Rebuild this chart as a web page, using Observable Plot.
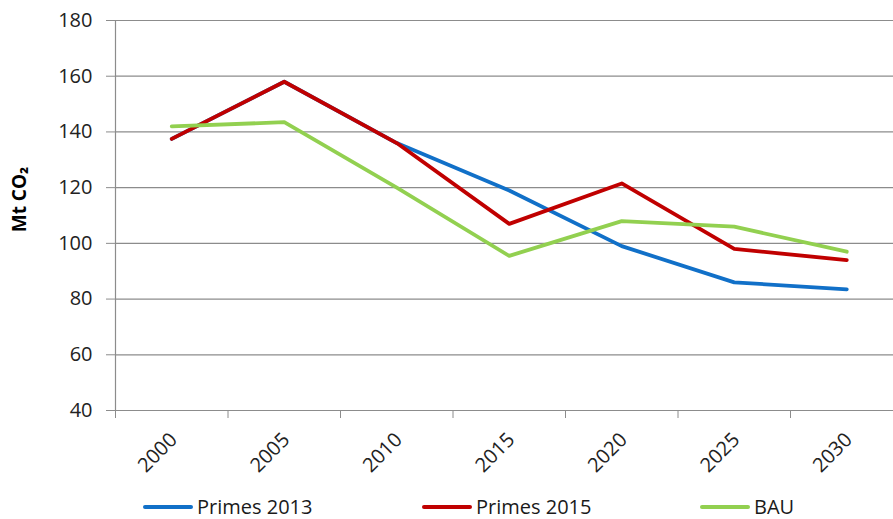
<!DOCTYPE html>
<html><head><meta charset="utf-8">
<script src="https://cdn.jsdelivr.net/npm/d3@7"></script>
<script src="https://cdn.jsdelivr.net/npm/@observablehq/plot@0.6"></script>
<style>
body{margin:0;background:#fff;font-family:"Open Sans","Noto Sans","DejaVu Sans",sans-serif;}
#wrap{position:relative;width:893px;height:519px;overflow:hidden;background:#fff}
#legend{position:absolute;left:0;top:490px;width:893px;height:29px}
.item{position:absolute;top:7px;height:20px;line-height:20px;display:flex;align-items:center;font-size:20px;color:#1a1a1a;white-space:nowrap}
.sw{width:50px;height:4px;margin-right:4px;border-radius:2px}
</style></head><body>
<div id="wrap"><div id="chart"></div><div id="legend"></div></div>
<script>
const years = [2000, 2005, 2010, 2015, 2020, 2025, 2030];
const primes2013 = [137.5, 158, 136, 119, 99, 86, 83.5];
const primes2015 = [137.5, 158, 136, 107, 121.5, 98, 94];
const bau = [142, 143.5, 120, 95.5, 108, 106, 97];
const seriesNames = ["Primes 2013", "Primes 2015", "BAU"];
const seriesColors = ["#1170C8", "#C00000", "#92D050"];
const yTicks = [40, 60, 80, 100, 120, 140, 160, 180];
const yLabel = "Mt CO\u2082";

const seriesValues = [primes2013, primes2015, bau];
const data = [];
seriesNames.forEach((s, i) => years.forEach((y, j) => data.push({series: s, year: y, value: seriesValues[i][j]})));
const half = (years[1] - years[0]) / 2;
const boundaries = years.map(y => y - half).concat([years[years.length - 1] + half]);

const gridColor = "#8c8c8c";
const textColor = "#222";

const chart = Plot.plot({
  width: 893,
  height: 490,
  marginTop: 20,
  marginLeft: 115,
  marginRight: 0,
  marginBottom: 80,
  x: {type: "linear", domain: [boundaries[0], boundaries[boundaries.length - 1]], range: [115, 902.5]},
  y: {domain: [40, 180], range: [410, 20]},
  color: {domain: seriesNames, range: seriesColors},
  style: {fontFamily: '"Open Sans","Noto Sans","DejaVu Sans",sans-serif', fontSize: "20px", color: textColor, background: "#fff", overflow: "visible"},
  marks: [
    Plot.ruleY(yTicks, {stroke: gridColor, strokeWidth: 1.2}),
    Plot.ruleX([boundaries[0]], {stroke: gridColor, strokeWidth: 1.2}),
    Plot.axisY({ticks: yTicks, tickSize: 9, tickPadding: 14, stroke: gridColor, fill: textColor, label: null, tickFormat: d => String(d)}),
    Plot.axisX({ticks: boundaries, tickSize: 8, tickFormat: () => "", stroke: gridColor, label: null}),
    Plot.axisX({ticks: years, tickSize: 0, tickPadding: 26, tickRotate: -45, tickFormat: d => String(d), fill: textColor, label: null, dx: 2}),
    Plot.text([yLabel], {text: d => d, frameAnchor: "left", textAnchor: "middle", dx: -96, dy: -16, rotate: -90, fontWeight: "bold", fontSize: 19, fill: "#000"}),
    Plot.line(data, {x: "year", y: "value", z: "series", stroke: "series", strokeWidth: 3.8})
  ]
});
document.getElementById("chart").appendChild(chart);

const legendLeft = [143, 422, 700];
const legend = document.getElementById("legend");
seriesNames.forEach((s, i) => {
  const it = document.createElement("div");
  it.className = "item";
  it.style.left = legendLeft[i] + "px";
  const sw = document.createElement("span");
  sw.className = "sw";
  sw.style.background = seriesColors[i];
  const tx = document.createElement("span");
  tx.textContent = s;
  it.appendChild(sw); it.appendChild(tx);
  legend.appendChild(it);
});
</script>
</body></html>
